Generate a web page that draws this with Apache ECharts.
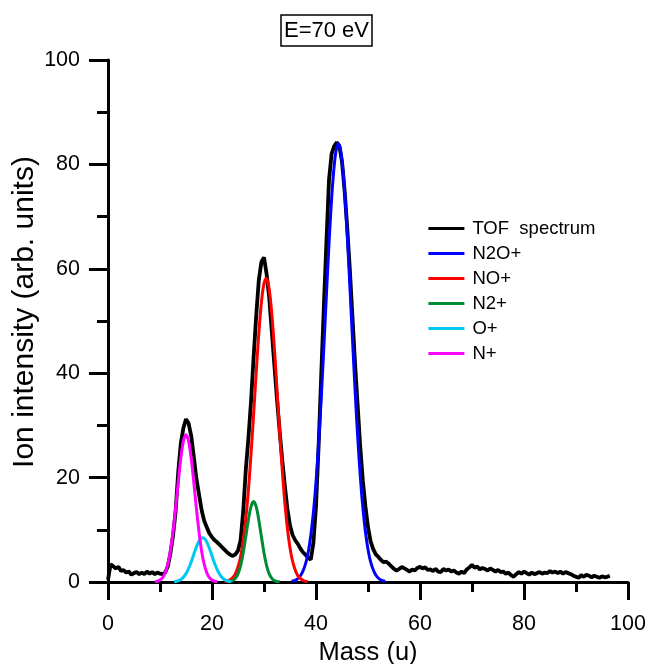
<!DOCTYPE html>
<html>
<head>
<meta charset="utf-8">
<script src="https://cdn.jsdelivr.net/npm/echarts@6/dist/echarts.min.js"></script>
<style>
html,body{margin:0;padding:0;background:#fff;}
#chart{width:651px;height:664px;}
</style>
</head>
<body>
<div id="chart"></div>
<script>
// ---- Data ----
const seriesNames = ['TOF  spectrum', 'N2O+', 'NO+', 'N2+', 'O+', 'N+'];

const tofMass = [
  0, 0.5, 1, 1.5, 2, 2.5, 3, 3.5, 4, 4.5,
  5, 5.5, 6, 6.5, 7, 7.5, 8, 8.5, 9, 9.5,
  10, 10.5, 11, 11.5, 12, 12.5, 13, 13.5, 14, 14.5,
  15, 15.5, 16, 16.5, 17, 17.5, 18, 18.5, 19, 19.5,
  20, 20.5, 21, 21.5, 22, 22.5, 23, 23.5, 24, 24.5,
  25, 25.5, 26, 26.5, 27, 27.5, 28, 28.5, 29, 29.5,
  30, 30.5, 31, 31.5, 32, 32.5, 33, 33.5, 34, 34.5,
  35, 35.5, 36, 36.5, 37, 37.5, 38, 38.5, 39, 39.5,
  40, 40.5, 41, 41.5, 42, 42.5, 43, 43.5, 44, 44.5,
  45, 45.5, 46, 46.5, 47, 47.5, 48, 48.5, 49, 49.5,
  50, 50.5, 51, 51.5, 52, 52.5, 53, 53.5, 54, 54.5,
  55, 55.5, 56, 56.5, 57, 57.5, 58, 58.5, 59, 59.5,
  60, 60.5, 61, 61.5, 62, 62.5, 63, 63.5, 64, 64.5,
  65, 65.5, 66, 66.5, 67, 67.5, 68, 68.5, 69, 69.5,
  70, 70.5, 71, 71.5, 72, 72.5, 73, 73.5, 74, 74.5,
  75, 75.5, 76, 76.5, 77, 77.5, 78, 78.5, 79, 79.5,
  80, 80.5, 81, 81.5, 82, 82.5, 83, 83.5, 84, 84.5,
  85, 85.5, 86, 86.5, 87, 87.5, 88, 88.5, 89, 89.5,
  90, 90.5, 91, 91.5, 92, 92.5, 93, 93.5, 94, 94.5,
  95, 95.5, 96, 96.5
];
const tofIntensity = [
  0.4, 3.4, 3.0, 2.6, 2.9, 2.1, 2.3, 1.8, 2.0, 1.4,
  1.7, 1.9, 1.5, 1.8, 1.5, 2.0, 1.6, 1.9, 1.5, 1.8,
  1.6, 1.5, 1.8, 3.0, 5.5, 8.8, 13.5, 21.0, 26.5, 29.5,
  31.2, 30.4, 28.0, 24.0, 19.8, 16.8, 13.8, 11.7, 10.5, 9.3,
  8.6, 8.0, 7.6, 7.1, 6.6, 6.1, 5.6, 5.2, 5.0, 5.3,
  6.0, 8.0, 13.5, 21.5, 27.5, 34.5, 43.0, 51.0, 57.8, 61.3,
  62.2, 59.0, 54.5, 48.0, 41.5, 35.0, 29.0, 23.5, 18.5, 14.0,
  10.8, 9.0, 8.0, 7.3, 6.4, 5.7, 5.2, 4.6, 4.3, 7.5,
  14.5, 26.0, 39.5, 52.5, 65.0, 77.0, 82.0, 83.5, 84.2, 83.5,
  80.5, 75.0, 68.0, 60.0, 51.0, 42.0, 34.0, 26.0, 19.5, 14.5,
  10.5, 7.8, 6.3, 5.3, 4.8, 4.2, 3.8, 3.9, 3.5, 3.0,
  2.5, 2.2, 2.5, 2.9, 2.6, 2.3, 2.0, 2.4, 2.2, 2.7,
  2.9, 2.6, 2.8, 2.3, 2.4, 2.1, 2.5, 2.0, 1.9, 2.5,
  2.2, 2.4, 2.0, 2.2, 1.8, 1.6, 2.0, 1.7, 2.4, 2.8,
  3.3, 2.7, 3.0, 2.4, 2.7, 2.5, 2.2, 2.6, 2.3, 2.0,
  2.3, 1.9, 2.0, 1.6, 1.8, 1.3, 1.0, 1.5, 1.9, 1.6,
  2.0, 1.7, 1.4, 1.8, 1.5, 1.7, 1.9, 1.6, 1.8, 1.7,
  2.1, 1.8, 2.0, 1.7, 2.0, 1.6, 1.9, 1.7, 1.5, 1.2,
  1.0, 0.8, 1.3, 1.0, 1.4, 1.2, 0.9, 1.2, 1.0, 0.8,
  1.1, 0.9, 1.0, 1.2
];

const n2oMass = [
  35.3, 35.8, 36.3, 36.8, 37.3, 37.8, 38.3, 38.8, 39.3, 39.8,
  40.3, 40.8, 41.3, 41.8, 42.3, 42.8, 43.3, 43.8, 44.3, 44.8,
  45.3, 45.8, 46.3, 46.8, 47.3, 47.8, 48.3, 48.8, 49.3, 49.8,
  50.3, 50.8, 51.3, 51.8, 52.3, 52.8, 53.3
];
const n2oIntensity = [
  0.13, 0.26, 0.50, 0.93, 1.7, 2.9, 4.7, 7.5, 11.4, 16.6,
  23.4, 31.5, 40.9, 50.9, 61.0, 70.2, 77.5, 82.3, 84.0, 82.3,
  77.5, 70.2, 61.0, 50.9, 40.9, 31.5, 23.4, 16.6, 11.4, 7.5,
  4.7, 2.9, 1.7, 0.93, 0.50, 0.26, 0.13
];

const noMass = [
  22.4, 22.9, 23.4, 23.9, 24.4, 24.9, 25.4, 25.9, 26.4, 26.9,
  27.4, 27.9, 28.4, 28.9, 29.4, 29.9, 30.4, 30.9, 31.4, 31.9,
  32.4, 32.9, 33.4, 33.9, 34.4, 34.9, 35.4, 35.9, 36.4, 36.9,
  37.4, 37.9, 38.4
];
const noIntensity = [
  0.08, 0.17, 0.37, 0.74, 1.4, 2.6, 4.4, 7.2, 11.2, 16.4,
  23.0, 30.5, 38.5, 46.2, 52.5, 56.7, 58.2, 56.7, 52.5, 46.2,
  38.5, 30.5, 23.0, 16.4, 11.2, 7.2, 4.4, 2.6, 1.4, 0.74,
  0.37, 0.17, 0.08
];

const n2Mass = [
  23.0, 23.5, 24.0, 24.5, 25.0, 25.5, 26.0, 26.5, 27.0, 27.5,
  28.0, 28.5, 29.0, 29.5, 30.0, 30.5, 31.0, 31.5, 32.0, 32.5, 33.0
];
const n2Intensity = [
  0.03, 0.09, 0.26, 0.68, 1.55, 3.13, 5.55, 8.7, 11.9, 14.45,
  15.4, 14.45, 11.9, 8.7, 5.55, 3.13, 1.55, 0.68, 0.26, 0.09, 0.03
];

const oMass = [
  12.7, 13.2, 13.7, 14.2, 14.7, 15.2, 15.7, 16.2, 16.7, 17.2,
  17.7, 18.2, 18.7, 19.2, 19.7, 20.2, 20.7, 21.2, 21.7, 22.2,
  22.7, 23.2, 23.7
];
const oIntensity = [
  0.06, 0.14, 0.31, 0.62, 1.15, 1.96, 3.06, 4.42, 5.89, 7.22,
  8.16, 8.5, 8.16, 7.22, 5.89, 4.42, 3.06, 1.96, 1.15, 0.62,
  0.31, 0.14, 0.06
];

const nMass = [
  9.0, 9.5, 10.0, 10.5, 11.0, 11.5, 12.0, 12.5, 13.0, 13.5,
  14.0, 14.5, 15.0, 15.5, 16.0, 16.5, 17.0, 17.5, 18.0, 18.5,
  19.0, 19.5, 20.0, 20.5, 21.0
];
const nIntensity = [
  0.06, 0.15, 0.37, 0.85, 1.77, 3.4, 5.95, 9.6, 14.1, 19.1,
  23.7, 27.0, 28.2, 27.0, 23.7, 19.1, 14.1, 9.6, 5.95, 3.4,
  1.77, 0.85, 0.37, 0.15, 0.06
];

const xTicks = [0, 20, 40, 60, 80, 100];
const yTicks = [0, 20, 40, 60, 80, 100];

// ---- Build chart ----
function zip(a, b) { return a.map((v, i) => [v, b[i]]); }

const FONT = '"Liberation Sans", Arial, sans-serif';
const colors = ['#000000', '#0000ff', '#ff0000', '#008c35', '#00c8f5', '#ff00ff'];
const dataSets = [
  zip(tofMass, tofIntensity),
  zip(n2oMass, n2oIntensity),
  zip(noMass, noIntensity),
  zip(n2Mass, n2Intensity),
  zip(oMass, oIntensity),
  zip(nMass, nIntensity)
];

const chart = echarts.init(document.getElementById('chart'), null, {renderer: 'canvas'});
chart.setOption({
  animation: false,
  backgroundColor: '#ffffff',
  title: {
    text: 'E=70 eV',
    left: 281,
    top: 15,
    padding: [5, 3, 4, 3],
    borderColor: '#000',
    borderWidth: 1.5,
    textStyle: {fontFamily: FONT, fontSize: 22, fontWeight: 'normal', color: '#000'}
  },
  legend: {
    orient: 'vertical',
    left: 427,
    top: 219,
    padding: 0,
    itemWidth: 36,
    itemHeight: 20,
    itemGap: 6,
    data: seriesNames,
    itemStyle: {opacity: 0, color: 'rgba(0,0,0,0)', borderWidth: 0},
    lineStyle: {width: 2.8},
    textStyle: {fontFamily: FONT, fontSize: 18.5, color: '#000', padding: [0, 0, 0, 3]}
  },
  grid: {left: 108, right: 23, top: 60, bottom: 82, containLabel: false, outerBoundsMode: 'none'},
  xAxis: {
    type: 'value',
    min: xTicks[0],
    max: xTicks[xTicks.length - 1],
    interval: 20,
    name: 'Mass (u)',
    nameLocation: 'middle',
    nameGap: 58,
    nameMoveOverlap: false,
    nameTextStyle: {fontFamily: FONT, fontSize: 25.5, color: '#000'},
    axisLine: {show: true, onZero: false, lineStyle: {color: '#000', width: 3}},
    axisTick: {show: true, inside: false, length: 18, lineStyle: {color: '#000', width: 3}},
    minorTick: {show: true, splitNumber: 2, length: 10, lineStyle: {color: '#000', width: 3}},
    axisLabel: {margin: 31, fontFamily: FONT, fontSize: 21.5, color: '#000', hideOverlap: false},
    splitLine: {show: false}
  },
  yAxis: {
    type: 'value',
    min: yTicks[0],
    max: yTicks[yTicks.length - 1],
    interval: 20,
    name: 'Ion intensity (arb. units)',
    nameLocation: 'middle',
    nameGap: 68,
    nameMoveOverlap: false,
    nameRotate: 90,
    nameTextStyle: {fontFamily: FONT, fontSize: 30, color: '#000', padding: [0, 0, 0, 18]},
    axisLine: {show: true, onZero: false, lineStyle: {color: '#000', width: 3}},
    axisTick: {show: true, inside: false, length: 19, lineStyle: {color: '#000', width: 3}},
    minorTick: {show: true, splitNumber: 2, length: 11, lineStyle: {color: '#000', width: 3}},
    axisLabel: {margin: 28, fontFamily: FONT, fontSize: 21.5, color: '#000'},
    splitLine: {show: false}
  },
  series: seriesNames.map((name, i) => ({
    name: name,
    type: 'line',
    data: dataSets[i],
    symbol: 'none',
    smooth: i === 0 ? false : 0.3,
    clip: true,
    color: colors[i],
    lineStyle: {color: colors[i], width: i === 0 ? 3.8 : 3},
    z: 2 + i
  }))
});
</script>
</body>
</html>
